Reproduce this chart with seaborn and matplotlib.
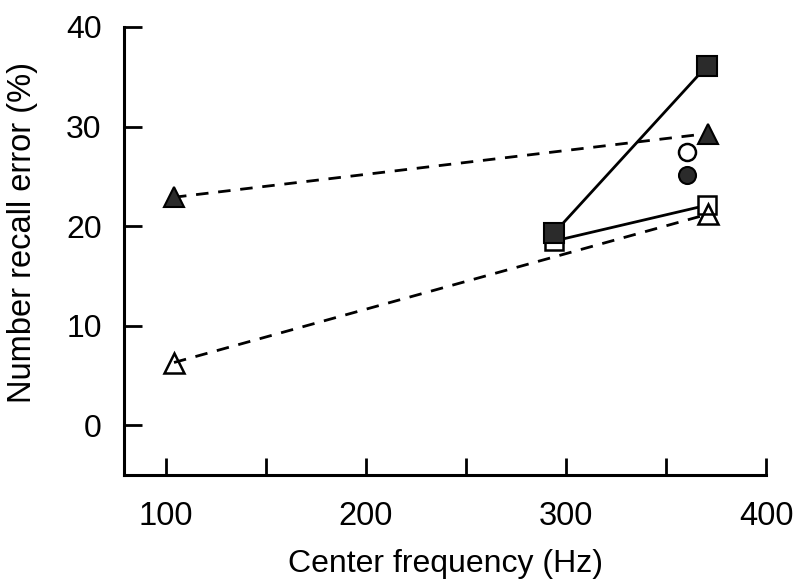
import matplotlib
matplotlib.use("Agg")
import matplotlib.pyplot as plt
import seaborn as sns

# ---- data ----
freq_sq = [294, 370.5]
err_sq_filled = [19.3, 36.1]
err_sq_open = [18.5, 22.1]

freq_tri = [104, 371]
err_tri_filled = [22.9, 29.3]
err_tri_open = [6.3, 21.2]

freq_circ = [360.5]
err_circ_open = [27.4]
err_circ_filled = [25.1]

x_ticks = [100, 200, 300, 400]
x_minor = [150, 250, 350]
y_ticks = [0, 10, 20, 30, 40]

sns.set_theme(style="white")
plt.rcParams["font.family"] = ["Liberation Sans", "DejaVu Sans"]

fig = plt.figure(figsize=(8.0, 5.83), dpi=100)
ax = fig.add_axes([0.155, 0.1852, 0.8025, 0.7685])

dark = "#2b2b2b"
lw = 2.0
dash = (0, (4.5, 3.5))

# open square (solid)
sns.lineplot(x=freq_sq, y=err_sq_open, ax=ax, color="black", linewidth=lw,
             marker="s", markersize=13.5, markerfacecolor="white",
             markeredgecolor="black", markeredgewidth=1.8, zorder=3)
# filled square (solid)
sns.lineplot(x=freq_sq, y=err_sq_filled, ax=ax, color="black", linewidth=lw,
             marker="s", markersize=14, markerfacecolor=dark,
             markeredgecolor="black", markeredgewidth=1.5, zorder=4)
# filled triangle (dashed)
sns.lineplot(x=freq_tri, y=err_tri_filled, ax=ax, color="black", linewidth=lw,
             linestyle=dash, marker="^", markersize=14, markerfacecolor=dark,
             markeredgecolor="black", markeredgewidth=1.5, zorder=3)
# open triangle (dashed)
sns.lineplot(x=freq_tri, y=err_tri_open, ax=ax, color="black", linewidth=lw,
             linestyle=dash, marker="^", markersize=14, markerfacecolor="none",
             markeredgecolor="black", markeredgewidth=1.8, zorder=5)
# circles
sns.scatterplot(x=freq_circ, y=err_circ_open, ax=ax, marker="o", s=150,
                facecolor="white", edgecolor="black", linewidth=1.8, zorder=5)
sns.scatterplot(x=freq_circ, y=err_circ_filled, ax=ax, marker="o", s=150,
                facecolor=dark, edgecolor="black", linewidth=1.5, zorder=5)

ax.set_xlim(79, 400)
ax.set_ylim(-5, 40)
ax.set_xticks(x_ticks)
ax.set_xticks(x_minor, minor=True)
ax.set_yticks(y_ticks)
ax.set_xticklabels([str(v) for v in x_ticks])
ax.set_yticklabels([str(v) for v in y_ticks])

for side in ["top", "right"]:
    ax.spines[side].set_visible(False)
for side in ["left", "bottom"]:
    ax.spines[side].set_visible(True)
    ax.spines[side].set_color("black")
    ax.spines[side].set_linewidth(2.2)

ax.tick_params(axis="both", which="both", direction="in", width=2.0,
               color="black", labelcolor="black",
               bottom=True, left=True, top=False, right=False)
ax.tick_params(axis="y", which="both", pad=16, length=13, labelsize=23)
ax.tick_params(axis="x", which="both", pad=19, length=12, labelsize=23.5)

ax.set_xlabel("Center frequency (Hz)", fontsize=23, color="black", labelpad=12)
ax.set_ylabel("Number recall error (%)", fontsize=23.5, color="black")
ax.yaxis.set_label_coords(-0.134, 0.541)
ax.set_facecolor("white")
fig.patch.set_facecolor("white")

fig.savefig("out.png", dpi=100)
